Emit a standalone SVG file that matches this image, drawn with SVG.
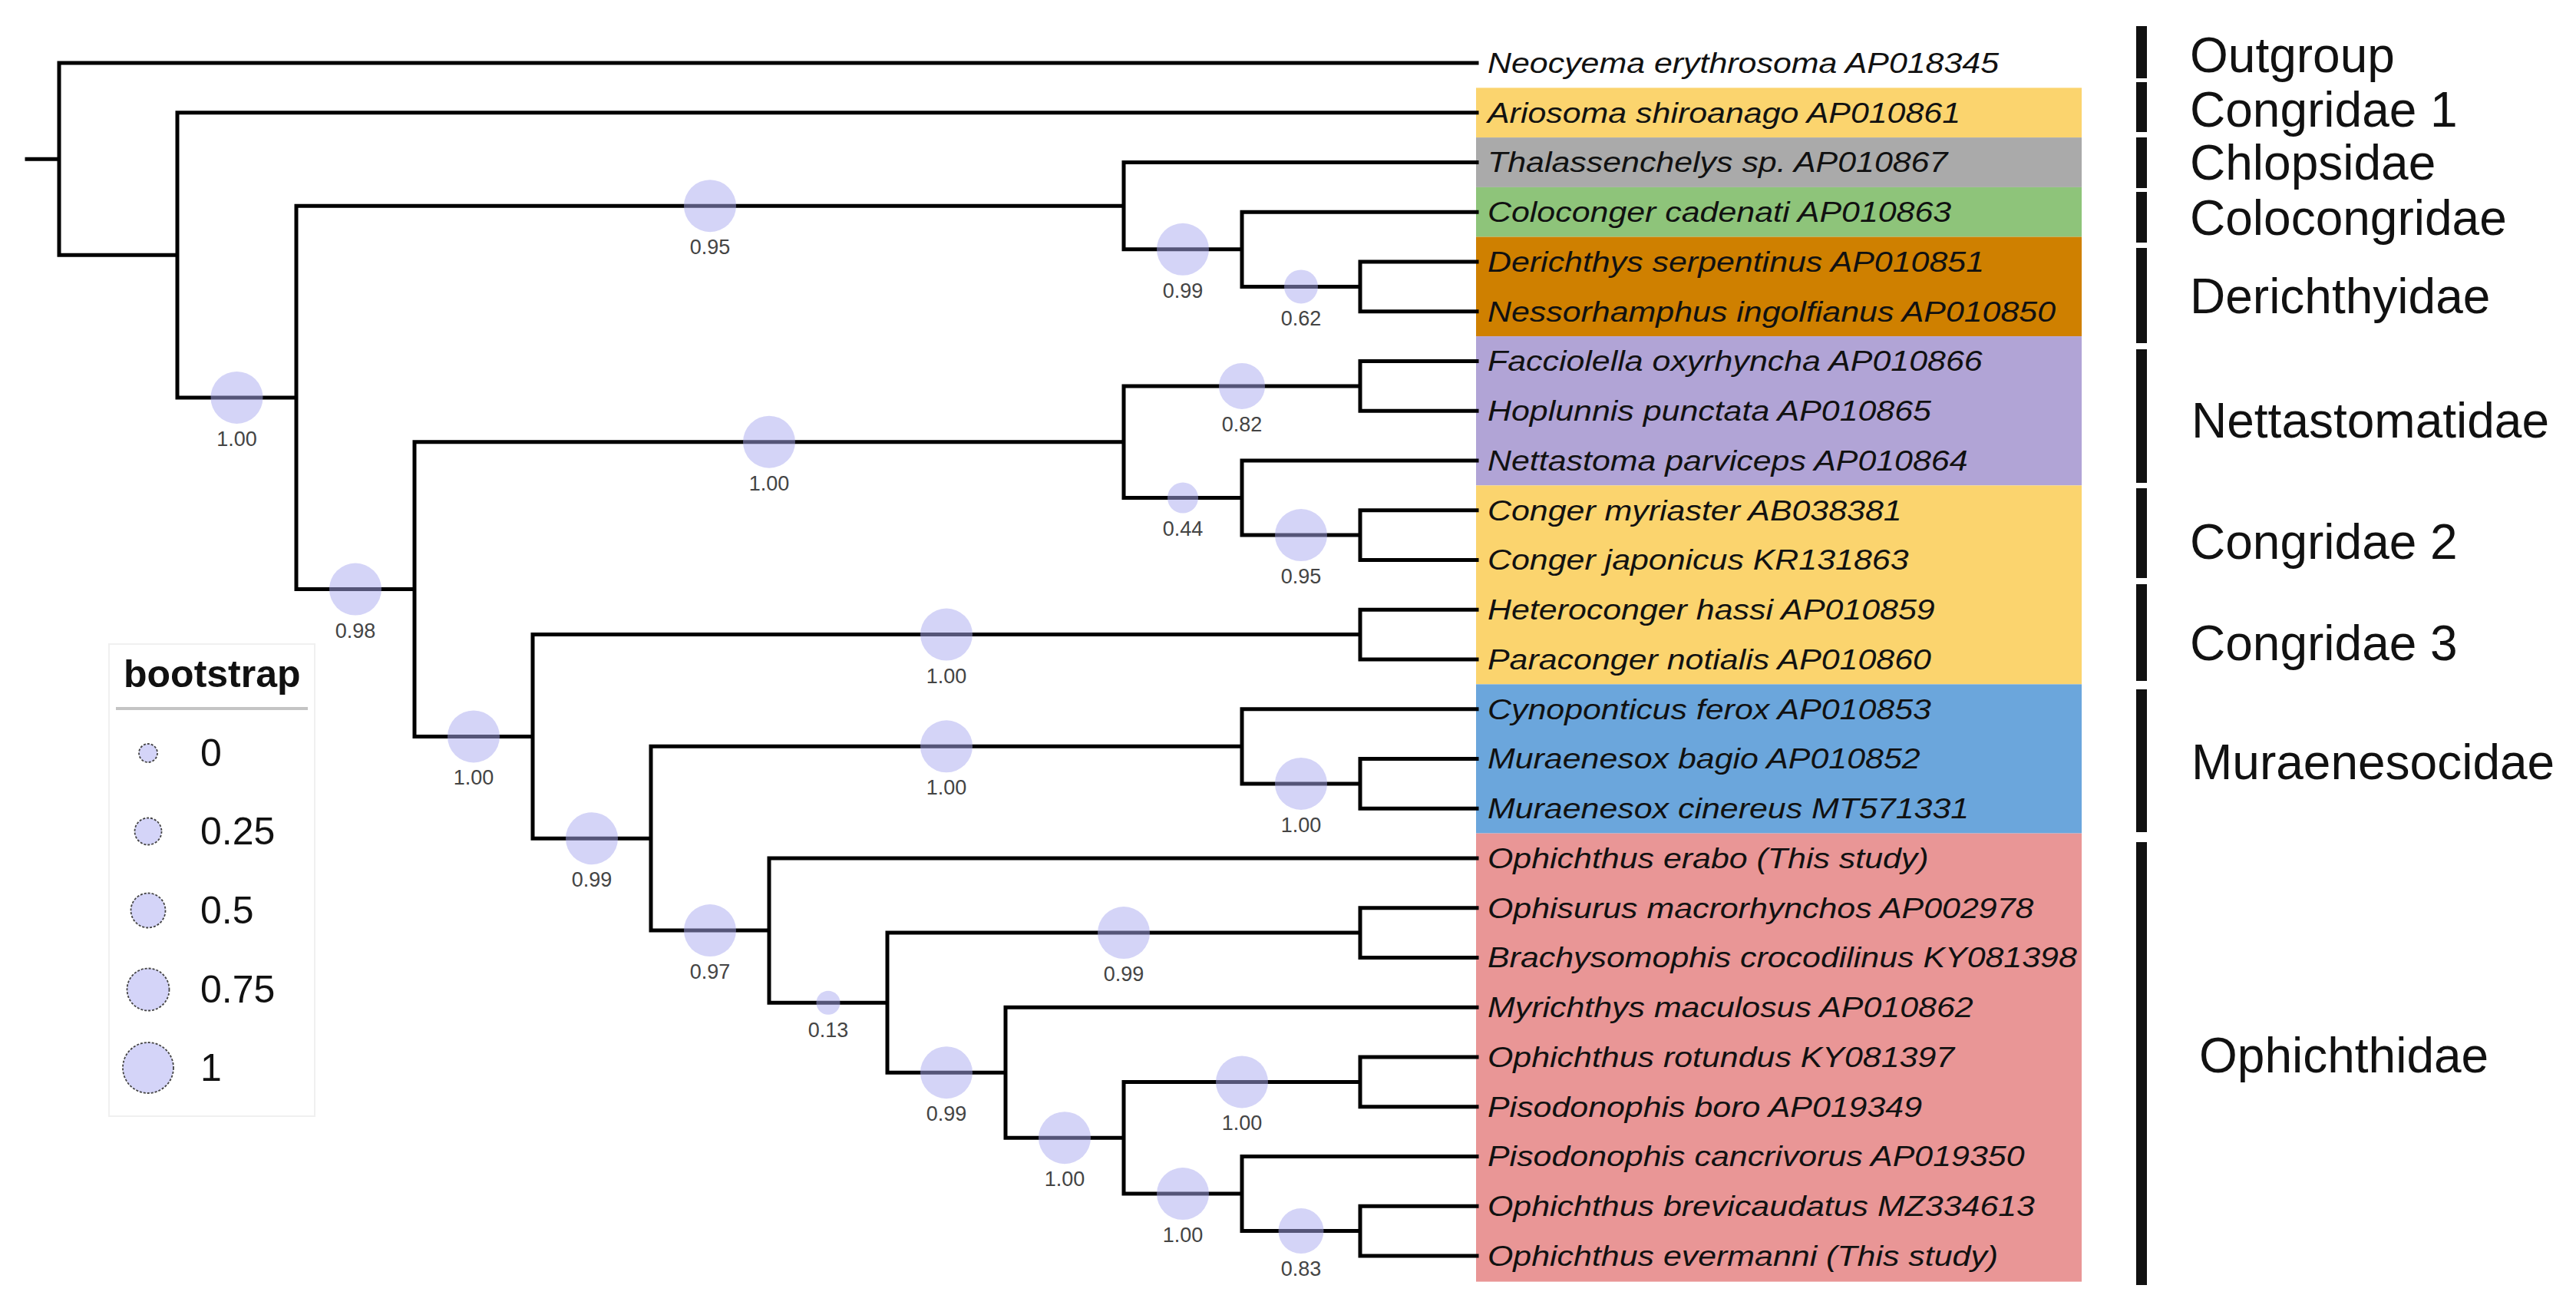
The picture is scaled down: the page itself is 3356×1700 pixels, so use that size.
<svg xmlns="http://www.w3.org/2000/svg" width="3356" height="1700" viewBox="0 0 3356 1700">
<style>
.br{fill:none;stroke:#000;stroke-width:5;stroke-linecap:square}
.bs{fill:#aaaaf0;fill-opacity:0.5;stroke:none}
.bl{font-family:"Liberation Sans",Arial,sans-serif;font-size:27px;fill:#444;text-anchor:middle}
.tip{font-family:"Liberation Sans",Arial,sans-serif;font-size:37px;font-style:italic;fill:#111}
.fam{font-family:"Liberation Sans",Arial,sans-serif;font-size:64px;fill:#111}
.bar{fill:#111}
.lg{fill:#d4d4f8;stroke:#444;stroke-width:1.8;stroke-dasharray:3 2}
.lt{font-family:"Liberation Sans",Arial,sans-serif;font-size:50px;fill:#111}
</style>
<rect width="3356" height="1700" fill="#fff"/>
<g id="clade-colors">
<rect x="1923" y="114.4" width="789" height="64.7" fill="#fbd46e"/>
<rect x="1923" y="179.1" width="789" height="64.8" fill="#aaaaaa"/>
<rect x="1923" y="243.9" width="789" height="64.7" fill="#8ec47a"/>
<rect x="1923" y="308.6" width="789" height="129.5" fill="#cf8000"/>
<rect x="1923" y="438.1" width="789" height="194.3" fill="#b1a4d6"/>
<rect x="1923" y="632.4" width="789" height="259" fill="#fbd46e"/>
<rect x="1923" y="891.4" width="789" height="194.2" fill="#6ba6dc"/>
<rect x="1923" y="1085.6" width="789" height="584" fill="#e99696"/>
</g>
<g id="connectors">
<path class="br" d="M35 207.2H77 M77 82V332.3 M77 82H1924 M77 332.3H231
M231 146.75V517.9 M231 146.75H1924 M231 517.9H386
M386 268.2V767.6 M386 268.2H1464 M386 767.6H540
M1464 211.5V324.8 M1464 211.5H1924 M1464 324.8H1618
M1618 276.25V373.4 M1618 276.25H1924 M1618 373.4H1772
M1772 341V405.75 M1772 341H1924 M1772 405.75H1924
M540 575.7V959.4 M540 575.7H1464 M540 959.4H694
M1464 502.9V648.6 M1464 502.9H1772 M1464 648.6H1618
M1772 470.5V535.25 M1772 470.5H1924 M1772 535.25H1924
M1618 600V697.1 M1618 600H1924 M1618 697.1H1772
M1772 664.75V729.5 M1772 664.75H1924 M1772 729.5H1924
M694 826.6V1092.2 M694 826.6H1772 M694 1092.2H848
M1772 794.25V859 M1772 794.25H1924 M1772 859H1924
M848 972.3V1212.1 M848 972.3H1618 M848 1212.1H1002
M1618 923.75V1020.9 M1618 923.75H1924 M1618 1020.9H1772
M1772 988.5V1053.25 M1772 988.5H1924 M1772 1053.25H1924
M1002 1118V1306.2 M1002 1118H1924 M1002 1306.2H1156
M1156 1215.1V1397.2 M1156 1215.1H1772 M1156 1397.2H1310
M1772 1182.75V1247.5 M1772 1182.75H1924 M1772 1247.5H1924
M1310 1312.25V1482.2 M1310 1312.25H1924 M1310 1482.2H1464
M1464 1409.4V1555.1 M1464 1409.4H1772 M1464 1555.1H1618
M1772 1377V1441.75 M1772 1377H1924 M1772 1441.75H1924
M1618 1506.5V1603.6 M1618 1506.5H1924 M1618 1603.6H1772
M1772 1571.25V1636 M1772 1571.25H1924 M1772 1636H1924"/>
</g>
<g id="support">
<circle class="bs" cx="308.5" cy="517.9" r="34"/><text class="bl" x="308.5" y="580.9">1.00</text>
<circle class="bs" cx="925" cy="268.2" r="34"/><text class="bl" x="925" y="331.2">0.95</text>
<circle class="bs" cx="1541" cy="324.8" r="34"/><text class="bl" x="1541" y="387.8">0.99</text>
<circle class="bs" cx="1695" cy="373.4" r="22"/><text class="bl" x="1695" y="424.4">0.62</text>
<circle class="bs" cx="463" cy="767.6" r="34"/><text class="bl" x="463" y="830.6">0.98</text>
<circle class="bs" cx="1002" cy="575.7" r="34"/><text class="bl" x="1002" y="638.7">1.00</text>
<circle class="bs" cx="1618" cy="502.9" r="30"/><text class="bl" x="1618" y="561.9">0.82</text>
<circle class="bs" cx="1541" cy="648.6" r="20"/><text class="bl" x="1541" y="697.6">0.44</text>
<circle class="bs" cx="1695" cy="697.1" r="34"/><text class="bl" x="1695" y="760.1">0.95</text>
<circle class="bs" cx="617" cy="959.4" r="34"/><text class="bl" x="617" y="1022.4">1.00</text>
<circle class="bs" cx="1233" cy="826.6" r="34"/><text class="bl" x="1233" y="889.6">1.00</text>
<circle class="bs" cx="771" cy="1092.2" r="34"/><text class="bl" x="771" y="1155.2">0.99</text>
<circle class="bs" cx="1233" cy="972.3" r="34"/><text class="bl" x="1233" y="1035.3">1.00</text>
<circle class="bs" cx="1695" cy="1020.9" r="34"/><text class="bl" x="1695" y="1083.9">1.00</text>
<circle class="bs" cx="925" cy="1212.1" r="34"/><text class="bl" x="925" y="1275.1">0.97</text>
<circle class="bs" cx="1079" cy="1306.2" r="15.5"/><text class="bl" x="1079" y="1350.7">0.13</text>
<circle class="bs" cx="1464" cy="1215.1" r="34"/><text class="bl" x="1464" y="1278.1">0.99</text>
<circle class="bs" cx="1233" cy="1397.2" r="34"/><text class="bl" x="1233" y="1460.2">0.99</text>
<circle class="bs" cx="1387" cy="1482.2" r="34"/><text class="bl" x="1387" y="1545.2">1.00</text>
<circle class="bs" cx="1618" cy="1409.4" r="34"/><text class="bl" x="1618" y="1472.4">1.00</text>
<circle class="bs" cx="1541" cy="1555.1" r="34"/><text class="bl" x="1541" y="1618.1">1.00</text>
<circle class="bs" cx="1695" cy="1603.6" r="29.5"/><text class="bl" x="1695" y="1662.1">0.83</text>
</g>
<g id="taxa" transform="translate(1938 0) scale(1.16 1)">
<text class="tip" x="0" y="95">Neocyema erythrosoma AP018345</text>
<text class="tip" x="0" y="159.75">Ariosoma shiroanago AP010861</text>
<text class="tip" x="0" y="224.5">Thalassenchelys sp. AP010867</text>
<text class="tip" x="0" y="289.25">Coloconger cadenati AP010863</text>
<text class="tip" x="0" y="354">Derichthys serpentinus AP010851</text>
<text class="tip" x="0" y="418.75">Nessorhamphus ingolfianus AP010850</text>
<text class="tip" x="0" y="483.5">Facciolella oxyrhyncha AP010866</text>
<text class="tip" x="0" y="548.25">Hoplunnis punctata AP010865</text>
<text class="tip" x="0" y="613">Nettastoma parviceps AP010864</text>
<text class="tip" x="0" y="677.75">Conger myriaster AB038381</text>
<text class="tip" x="0" y="742.5">Conger japonicus KR131863</text>
<text class="tip" x="0" y="807.25">Heteroconger hassi AP010859</text>
<text class="tip" x="0" y="872">Paraconger notialis AP010860</text>
<text class="tip" x="0" y="936.75">Cynoponticus ferox AP010853</text>
<text class="tip" x="0" y="1001.5">Muraenesox bagio AP010852</text>
<text class="tip" x="0" y="1066.25">Muraenesox cinereus MT571331</text>
<text class="tip" x="0" y="1131">Ophichthus erabo (This study)</text>
<text class="tip" x="0" y="1195.75">Ophisurus macrorhynchos AP002978</text>
<text class="tip" x="0" y="1260.5">Brachysomophis crocodilinus KY081398</text>
<text class="tip" x="0" y="1325.25">Myrichthys maculosus AP010862</text>
<text class="tip" x="0" y="1390">Ophichthus rotundus KY081397</text>
<text class="tip" x="0" y="1454.75">Pisodonophis boro AP019349</text>
<text class="tip" x="0" y="1519.5">Pisodonophis cancrivorus AP019350</text>
<text class="tip" x="0" y="1584.25">Ophichthus brevicaudatus MZ334613</text>
<text class="tip" x="0" y="1649">Ophichthus evermanni (This study)</text>
</g>
<g id="families">
<rect class="bar" x="2783" y="34" width="14" height="68"/><text class="fam" x="2853" y="94">Outgroup</text>
<rect class="bar" x="2783" y="107" width="14" height="65"/><text class="fam" x="2853" y="165">Congridae 1</text>
<rect class="bar" x="2783" y="179" width="14" height="66"/><text class="fam" x="2853" y="234">Chlopsidae</text>
<rect class="bar" x="2783" y="250" width="14" height="66"/><text class="fam" x="2853" y="306">Colocongridae</text>
<rect class="bar" x="2783" y="323" width="14" height="124"/><text class="fam" x="2853" y="408">Derichthyidae</text>
<rect class="bar" x="2783" y="455" width="14" height="174"/><text class="fam" x="2855" y="570">Nettastomatidae</text>
<rect class="bar" x="2783" y="636" width="14" height="117"/><text class="fam" x="2853" y="728">Congridae 2</text>
<rect class="bar" x="2783" y="761" width="14" height="126"/><text class="fam" x="2853" y="860">Congridae 3</text>
<rect class="bar" x="2783" y="898" width="14" height="186"/><text class="fam" x="2855" y="1015">Muraenesocidae</text>
<rect class="bar" x="2783" y="1097" width="14" height="577"/><text class="fam" x="2865" y="1397">Ophichthidae</text>
</g>
<g id="legend">
<rect x="142" y="839" width="268" height="615" fill="#fff" stroke="#f0f0f0" stroke-width="2"/>
<text x="161" y="895" font-family="'Liberation Sans',Arial,sans-serif" font-size="50" font-weight="bold" fill="#111">bootstrap</text>
<line x1="151" y1="923" x2="401" y2="923" stroke="#c4c4c4" stroke-width="4"/>
<circle class="lg" cx="193" cy="981" r="12"/><text class="lt" x="261" y="998">0</text>
<circle class="lg" cx="193" cy="1083" r="17.5"/><text class="lt" x="261" y="1100">0.25</text>
<circle class="lg" cx="193" cy="1186" r="22.5"/><text class="lt" x="261" y="1203">0.5</text>
<circle class="lg" cx="193" cy="1289" r="27.5"/><text class="lt" x="261" y="1306">0.75</text>
<circle class="lg" cx="193" cy="1391" r="33"/><text class="lt" x="261" y="1408">1</text>
</g>
</svg>
